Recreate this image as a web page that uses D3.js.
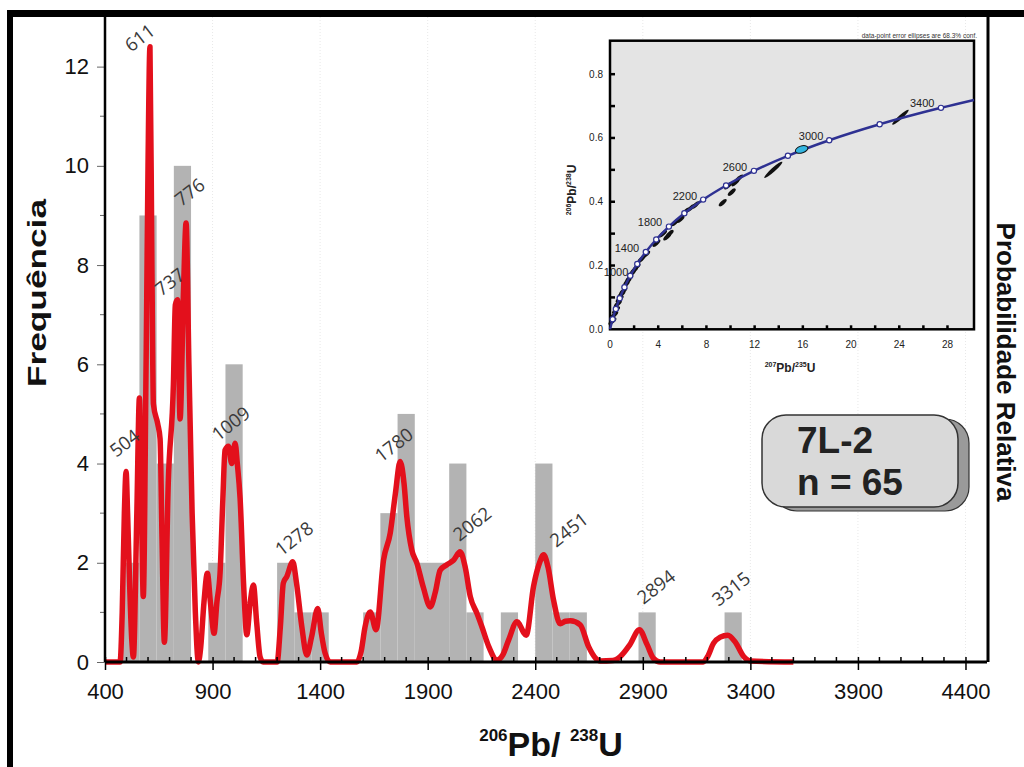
<!DOCTYPE html>
<html>
<head>
<meta charset="utf-8">
<script src="https://cdn.jsdelivr.net/npm/d3@7"></script>
<style>
  body { margin: 0; background: #fff; }
  svg { display: block; font-family: "Liberation Sans", Arial, sans-serif; }
</style>
</head>
<body>
<div id="chart"></div>
<script>
// ---- histogram (80 Ma bins, start age of each bin) ----
const binStarts = [480, 560, 640, 720, 880, 960, 1200, 1280, 1360, 1600, 1680, 1760, 1840, 1920, 2000, 2080, 2240, 2400, 2480, 2560, 2880, 3280];
const binCounts = [2, 9, 4, 10, 2, 6, 2, 1, 1, 1, 3, 5, 2, 2, 4, 1, 1, 4, 1, 1, 1, 1];
const binWidth = 80;

// ---- probability density curve (age Ma, frequency units) ----
const pdfAge = [400, 470, 480, 490, 498, 505, 515, 525, 532, 548, 560, 570, 578, 591, 600, 609, 618, 625, 645, 656, 665, 676,
  694, 718, 727, 737, 749, 765, 777, 790, 805, 820, 834, 845, 860, 876, 890, 907, 920, 935, 948, 958, 974, 989, 1005, 1015,
  1028, 1045, 1059, 1075, 1090, 1105, 1121, 1135, 1200, 1215, 1229, 1245, 1273, 1290, 1315, 1338, 1360, 1389, 1405, 1423,
  1447, 1571, 1590, 1609, 1633, 1660, 1695, 1726, 1750, 1772, 1790, 1803, 1826, 1850, 1880, 1912, 1935, 1958, 1989, 2020,
  2051, 2075, 2098, 2129, 2152, 2185, 2222, 2250, 2276, 2315, 2358, 2392, 2420, 2439, 2460, 2485, 2516, 2540, 2563, 2609,
  2648, 2680, 2702, 2760, 2795, 2840, 2884, 2920, 2950, 2981, 3181, 3200, 3229, 3260, 3295, 3330, 3369, 3400, 3600];
const pdfValue = [0, 0, 1.0, 3.0, 3.84, 3.0, 1.5, 0.4, 0.1, 3.0, 5.32, 3.0, 1.32, 6.0, 10, 12.4, 8, 5.2, 4.8, 4.5, 2.5, 0.4,
  3.6, 5.6, 7.2, 7.3, 4.9, 7.5, 8.85, 6, 3, 1, 0, 0.3, 1.2, 1.79, 1.2, 0.58, 1.2, 1.8, 3.3, 4.27, 4.35, 4.0, 4.41, 4.0,
  3.3, 1.5, 0.55, 1.2, 1.55, 0.8, 0.1, 0, 0, 0.7, 1.59, 1.72, 2.02, 1.6, 0.71, 0.14, 0.5, 1.08, 0.6, 0.18,
  0, 0, 0.2, 0.71, 1.01, 0.65, 2.06, 2.6, 3.4, 4.04, 3.6, 2.93, 2.26, 1.99, 1.5, 1.11, 1.4, 1.85, 1.96, 2.05,
  2.22, 1.9, 1.32, 0.98, 0.71, 0.3, 0.04, 0.15, 0.44, 0.81, 0.54, 1.52, 2.0, 2.16, 1.9, 1.25, 0.77, 0.82, 0.83, 0.75,
  0.31, 0.08, 0.02, 0.03, 0.11, 0.35, 0.65, 0.35, 0.07, 0, 0, 0.1, 0.38, 0.5, 0.54, 0.4, 0.11, 0.02, 0];

// ---- peak labels: text and where the text starts (age, frequency) ----
const peakText = ['504', '611', '737', '776', '1009', '1278', '1780', '2062', '2451', '2894', '3315'];
const peakAtAge = [452, 522, 662, 755, 926, 1220, 1684, 2048, 2498, 2903, 3252];
const peakAtValue = [4.11, 12.28, 7.36, 9.17, 4.44, 2.12, 4.01, 2.42, 2.30, 1.15, 1.11];

// ---- axes ----
const xTickValues = [400, 900, 1400, 1900, 2400, 2900, 3400, 3900, 4400];
const yTickValues = [0, 2, 4, 6, 8, 10, 12];
const sampleName = '7L-2';
const sampleCount = 'n = 65';

// ---- inset concordia diagram ----
const concAge = [0, 200, 400, 600, 800, 1000, 1200, 1400, 1600, 1800, 2000, 2200, 2400, 2600, 2800, 3000, 3200, 3400, 3493];
const concX = [0, 0.218, 0.483, 0.806, 1.199, 1.677, 2.260, 2.970, 3.835, 4.887, 6.168, 7.729, 9.629, 11.942, 14.759, 18.189, 22.372, 27.458, 30.2];
const concY = [0, 0.0315, 0.0640, 0.0975, 0.1321, 0.1678, 0.2046, 0.2426, 0.2817, 0.3221, 0.3638, 0.4067, 0.4510, 0.4968, 0.5440, 0.5927, 0.6428, 0.6945, 0.7193];
const concLabelText = ['1000', '1400', '1800', '2200', '2600', '3000', '3400'];
const concLabelX = [0.5, 1.41, 3.32, 6.22, 10.37, 16.68, 25.9];
const concLabelY = [0.18, 0.255, 0.336, 0.417, 0.508, 0.606, 0.709];
const ellX = [0.2, 0.35, 0.5, 0.65, 0.8, 0.95, 1.1, 1.3, 1.45, 1.6, 1.8, 2.0, 2.2, 2.6, 3.0, 3.85, 4.4, 4.75, 4.95, 5.4, 5.85, 6.3, 6.7, 7.1, 9.35, 9.8, 10.1, 10.4, 10.6, 13.55, 24.1];
const ellY = [0.025, 0.045, 0.06, 0.08, 0.095, 0.11, 0.12, 0.14, 0.15, 0.16, 0.175, 0.185, 0.195, 0.22, 0.235, 0.27, 0.3, 0.29, 0.3, 0.335, 0.345, 0.37, 0.38, 0.39, 0.397, 0.45, 0.43, 0.46, 0.47, 0.5, 0.665];
const ellErr = [1, 1, 1, 1, 1, 1, 1, 1, 1, 1, 1, 1, 1, 1, 1, 1, 1, 1, 1, 1, 1, 1, 1, 1, 1, 1, 1, 1, 1.4, 2.4, 2.2];
const cyanX = 15.9, cyanY = 0.564;
const insetXTicks = [0, 4, 8, 12, 16, 20, 24, 28];
const insetYTicks = [0.0, 0.2, 0.4, 0.6, 0.8];

const W = 1024, H = 767;
const svg = d3.select('#chart').append('svg')
    .attr('width', W)
    .attr('height', H);

svg.append('rect').attr('width', W).attr('height', H).attr('fill', '#fff');

// main scales
const x = d3.scaleLinear().domain([400, 4500]).range([105, 987]);
const y = d3.scaleLinear().domain([0, 13]).range([662, 17]);

// faint vertical guides
svg.append('g').selectAll('line')
    .data(xTickValues.slice(1))
  .join('line')
    .attr('x1', d => x(d)).attr('x2', d => x(d))
    .attr('y1', y(13)).attr('y2', y(0))
    .attr('stroke', '#e8e8e8')
    .attr('stroke-dasharray', '1,2');

// ---- inset ----
const ix = d3.scaleLinear().domain([0, 30.2]).range([610, 974]);
const iy = d3.scaleLinear().domain([0, 0.905]).range([329.3, 40.7]);
const inset = svg.append('g').attr('class', 'inset');

inset.append('rect')
    .attr('x', ix(0)).attr('y', iy(0.905))
    .attr('width', ix(30.2) - ix(0)).attr('height', iy(0) - iy(0.905))
    .attr('fill', '#e4e4e4')
    .attr('stroke', '#000')
    .attr('stroke-width', 2.5);

// tick marks, drawn inward
inset.append('g').selectAll('line')
    .data(d3.range(1, 9).map(d => d / 10))
  .join('line')
    .attr('x1', ix(0)).attr('x2', ix(0) + 5)
    .attr('y1', d => iy(d)).attr('y2', d => iy(d))
    .attr('stroke', '#000').attr('stroke-width', 2.5);
inset.append('g').selectAll('line')
    .data(d3.range(2, 30, 2))
  .join('line')
    .attr('x1', d => ix(d)).attr('x2', d => ix(d))
    .attr('y1', iy(0)).attr('y2', iy(0) - 4)
    .attr('stroke', '#000').attr('stroke-width', 2.5);

inset.append('g').selectAll('text')
    .data(insetYTicks)
  .join('text')
    .attr('x', ix(0) - 7)
    .attr('y', d => iy(d))
    .attr('dy', '0.35em')
    .attr('text-anchor', 'end')
    .attr('font-size', 10)
    .attr('fill', '#222')
    .text(d => d.toFixed(1));
inset.append('g').selectAll('text')
    .data(insetXTicks)
  .join('text')
    .attr('x', d => ix(d))
    .attr('y', iy(0) + 19)
    .attr('text-anchor', 'middle')
    .attr('font-size', 10)
    .attr('fill', '#222')
    .text(d => d);

// inset axis titles
const ixTitle = inset.append('text')
    .attr('x', 790).attr('y', 372)
    .attr('text-anchor', 'middle')
    .attr('font-weight', 'bold')
    .attr('font-size', 12)
    .attr('fill', '#222');
ixTitle.append('tspan').attr('font-size', 7).attr('dy', -5).text('207');
ixTitle.append('tspan').attr('dy', 5).text('Pb/');
ixTitle.append('tspan').attr('font-size', 7).attr('dy', -5).text('235');
ixTitle.append('tspan').attr('dy', 5).text('U');

const iyTitle = inset.append('text')
    .attr('transform', 'translate(576,190) rotate(-90)')
    .attr('text-anchor', 'middle')
    .attr('font-weight', 'bold')
    .attr('font-size', 12)
    .attr('fill', '#222');
iyTitle.append('tspan').attr('font-size', 7).attr('dy', -5).text('206');
iyTitle.append('tspan').attr('dy', 5).text('Pb/');
iyTitle.append('tspan').attr('font-size', 7).attr('dy', -5).text('238');
iyTitle.append('tspan').attr('dy', 5).text('U');

inset.append('text')
    .attr('x', 977).attr('y', 38)
    .attr('text-anchor', 'end')
    .attr('font-size', 6.5)
    .attr('fill', '#333')
    .text('data-point error ellipses are 68.3% conf.');

// error ellipses
inset.append('g').selectAll('ellipse')
    .data(ellX.map((d, i) => ({x: d, y: ellY[i], e: ellErr[i]})))
  .join('ellipse')
    .attr('transform', d => `translate(${ix(d.x)},${iy(d.y)}) rotate(-42)`)
    .attr('rx', d => 5 * d.e)
    .attr('ry', 2)
    .attr('fill', '#111');

// concordia curve
const concLine = d3.line()
    .x(d => ix(d.x))
    .y(d => iy(d.y))
    .curve(d3.curveMonotoneX);
const concData = concX.map((d, i) => ({x: d, y: concY[i], age: concAge[i]}));
inset.append('path')
    .datum(concData)
    .attr('d', concLine)
    .attr('fill', 'none')
    .attr('stroke', '#2e3192')
    .attr('stroke-width', 2.5);

inset.append('ellipse')
    .attr('transform', `translate(${ix(cyanX)},${iy(cyanY)}) rotate(-18)`)
    .attr('rx', 6.5).attr('ry', 3.5)
    .attr('fill', '#33b5e0')
    .attr('stroke', '#111')
    .attr('stroke-width', 1);

inset.append('g').selectAll('circle')
    .data(concData.filter(d => d.age > 0 && d.age <= 3400))
  .join('circle')
    .attr('cx', d => ix(d.x))
    .attr('cy', d => iy(d.y))
    .attr('r', 2.6)
    .attr('fill', '#fff')
    .attr('stroke', '#2e3192')
    .attr('stroke-width', 1.2);

inset.append('g').selectAll('text')
    .data(concLabelText)
  .join('text')
    .attr('x', (d, i) => ix(concLabelX[i]))
    .attr('y', (d, i) => iy(concLabelY[i]))
    .attr('dy', '0.35em')
    .attr('text-anchor', 'middle')
    .attr('font-size', 11)
    .attr('fill', '#222')
    .text(d => d);

// ---- histogram bars ----
svg.append('g').selectAll('rect')
    .data(binStarts.map((d, i) => ({start: d, count: binCounts[i]})))
  .join('rect')
    .attr('x', d => x(d.start))
    .attr('y', d => y(d.count))
    .attr('width', d => x(d.start + binWidth) - x(d.start))
    .attr('height', d => y(0) - y(d.count))
    .attr('fill', '#b3b3b3');

// ---- probability curve ----
const pdfLine = d3.line()
    .x(d => x(d.age))
    .y(d => y(d.v))
    .curve(d3.curveMonotoneX);
svg.append('path')
    .datum(pdfAge.map((d, i) => ({age: d, v: pdfValue[i]})))
    .attr('d', pdfLine)
    .attr('fill', 'none')
    .attr('stroke', '#e3101c')
    .attr('stroke-width', 5.5)
    .attr('stroke-linejoin', 'round');

// peak labels
svg.append('g').selectAll('text')
    .data(peakText)
  .join('text')
    .attr('transform', (d, i) => `translate(${x(peakAtAge[i])},${y(peakAtValue[i])}) rotate(-38)`)
    .attr('font-family', '"Open Sans", "Noto Sans", sans-serif')
    .attr('font-size', 18.5)
    .attr('fill', '#3a3a3a')
    .text(d => d);

// ---- axes ----
const xMinor = d3.range(500, 4500, 100).filter(d => !xTickValues.includes(d));
svg.append('g')
    .attr('transform', `translate(0,${y(0)})`)
    .selectAll('line')
    .data(xMinor)
  .join('line')
    .attr('x1', d => x(d)).attr('x2', d => x(d))
    .attr('y1', -5).attr('y2', 0)
    .attr('stroke', '#000').attr('stroke-width', 1.5);

const xAxis = svg.append('g')
    .attr('transform', `translate(0,${y(0)})`)
    .call(d3.axisBottom(x).tickValues(xTickValues).tickFormat(d3.format('d'))
      .tickSize(8).tickPadding(13).tickSizeOuter(0));
xAxis.select('.domain').remove();
xAxis.selectAll('.tick line').attr('y1', -5).attr('stroke-width', 1.5);
xAxis.selectAll('.tick text')
    .attr('font-family', '"Liberation Sans", Arial, sans-serif')
    .attr('font-size', 22)
    .attr('fill', '#111');

const yMinor = [1, 3, 5, 7, 9, 11];
svg.append('g').selectAll('line')
    .data(yMinor)
  .join('line')
    .attr('x1', x(400) - 5).attr('x2', x(400))
    .attr('y1', d => y(d)).attr('y2', d => y(d))
    .attr('stroke', '#666').attr('stroke-width', 1);

const yAxis = svg.append('g')
    .attr('transform', `translate(${x(400)},0)`)
    .call(d3.axisLeft(y).tickValues(yTickValues).tickSize(8).tickPadding(8).tickSizeOuter(0));
yAxis.select('.domain').remove();
yAxis.selectAll('.tick line').attr('stroke', '#666');
yAxis.selectAll('.tick text')
    .attr('font-family', '"Liberation Sans", Arial, sans-serif')
    .attr('font-size', 22)
    .attr('fill', '#111');

// axis lines and frame
svg.append('line')
    .attr('x1', x(400)).attr('x2', x(400))
    .attr('y1', y(13)).attr('y2', y(0))
    .attr('stroke', '#000').attr('stroke-width', 2.5);
svg.append('line')
    .attr('x1', x(400)).attr('x2', x(4500))
    .attr('y1', y(0)).attr('y2', y(0))
    .attr('stroke', '#000').attr('stroke-width', 3);
svg.append('line')
    .attr('x1', 988).attr('x2', 988)
    .attr('y1', y(13)).attr('y2', y(0))
    .attr('stroke', '#000').attr('stroke-width', 3);
svg.append('rect').attr('x', 7).attr('y', 10).attr('width', W - 7).attr('height', 7).attr('fill', '#000');
svg.append('rect').attr('x', 7).attr('y', 10).attr('width', 6).attr('height', H - 10).attr('fill', '#000');

// axis titles
svg.append('text')
    .attr('transform', 'translate(46,293) rotate(-90)')
    .attr('text-anchor', 'middle')
    .attr('font-weight', 'bold')
    .attr('font-size', 26)
    .attr('textLength', 188)
    .attr('lengthAdjust', 'spacingAndGlyphs')
    .attr('fill', '#111')
    .text('Frequência');

svg.append('text')
    .attr('transform', 'translate(997,362) rotate(90)')
    .attr('text-anchor', 'middle')
    .attr('font-weight', 'bold')
    .attr('font-size', 26)
    .attr('fill', '#111')
    .text('Probabilidade Relativa');

const xTitle = svg.append('text')
    .attr('x', 551).attr('y', 756)
    .attr('text-anchor', 'middle')
    .attr('font-weight', 'bold')
    .attr('font-size', 34)
    .attr('fill', '#111');
xTitle.append('tspan').attr('font-size', 17).attr('dy', -15).text('206');
xTitle.append('tspan').attr('dy', 15).text('Pb/ ');
xTitle.append('tspan').attr('font-size', 17).attr('dy', -15).text('238');
xTitle.append('tspan').attr('dy', 15).text('U');

// ---- sample box ----
const box = svg.append('g').attr('transform', 'translate(762,415)');
box.append('rect')
    .attr('x', 11).attr('y', 4)
    .attr('width', 196).attr('height', 92)
    .attr('rx', 24)
    .attr('fill', '#9a9a9a')
    .attr('stroke', '#333').attr('stroke-width', 1.2);
box.append('rect')
    .attr('width', 196).attr('height', 92)
    .attr('rx', 24)
    .attr('fill', '#d9d9d9')
    .attr('stroke', '#333').attr('stroke-width', 1.5);
box.append('text')
    .attr('x', 35).attr('y', 38)
    .attr('font-weight', 'bold')
    .attr('font-size', 37)
    .attr('fill', '#222')
    .text(sampleName);
box.append('text')
    .attr('x', 35).attr('y', 80)
    .attr('font-weight', 'bold')
    .attr('font-size', 37)
    .attr('fill', '#222')
    .text(sampleCount);
</script>
</body>
</html>
